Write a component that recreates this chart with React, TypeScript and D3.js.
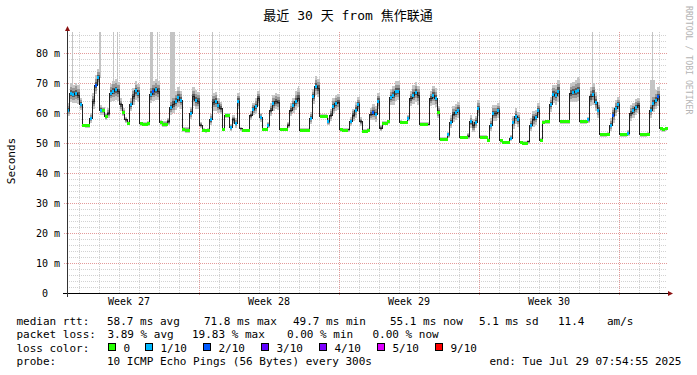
import React from "react";
import * as d3 from "d3";

// 30 day window, one sample every 3 hours (240 samples)
const startTime = Date.UTC(2025, 5, 30, 9, 36);
const stepHours = 3;
const spanDays = 30;

// median rtt in ms
const medianRtt = [
  61.0, 66.6, 66.2, 66.6, 66.0, 62.9, 55.8, 55.7,
  55.7, 58.2, 63.8, 69.3, 71.8, 61.0, 60.7, 58.8,
  59.9, 66.6, 67.3, 67.7, 67.1, 62.7, 60.2, 57.7,
  56.6, 62.7, 65.4, 67.4, 66.6, 56.4, 56.3, 56.3,
  56.4, 66.2, 67.1, 67.7, 67.3, 56.7, 56.3, 56.3,
  57.1, 61.8, 62.9, 64.0, 65.1, 64.3, 54.6, 54.3,
  54.3, 59.9, 65.4, 64.3, 64.0, 56.0, 54.3, 54.1,
  54.3, 57.7, 63.6, 63.8, 62.4, 61.6, 54.5, 59.1,
  59.1, 55.1, 57.7, 56.6, 64.0, 54.7, 54.2, 54.2,
  54.2, 59.1, 61.3, 62.1, 64.7, 58.5, 54.6, 54.6,
  56.0, 61.0, 63.2, 63.8, 63.6, 54.6, 54.6, 54.6,
  56.0, 61.0, 62.4, 64.0, 64.9, 54.3, 54.2, 54.2,
  54.2, 58.2, 65.4, 69.0, 68.2, 59.0, 59.0, 59.0,
  57.1, 59.3, 62.1, 63.2, 63.6, 54.4, 54.2, 54.2,
  54.4, 57.1, 59.3, 61.0, 62.7, 57.1, 54.0, 54.0,
  54.3, 59.6, 60.2, 59.6, 64.0, 55.0, 56.6, 56.6,
  57.1, 65.1, 65.8, 67.1, 67.3, 56.9, 56.8, 56.8,
  58.2, 64.7, 66.0, 66.9, 65.8, 56.2, 56.2, 56.2,
  56.2, 64.7, 65.8, 64.9, 60.2, 51.2, 51.2, 51.2,
  52.7, 57.0, 59.6, 60.2, 61.0, 51.8, 51.8, 51.8,
  52.3, 57.1, 55.7, 56.9, 61.6, 52.0, 52.0, 52.0,
  51.0, 56.0, 59.9, 59.9, 60.7, 50.7, 50.2, 50.2,
  50.2, 51.6, 56.8, 58.8, 57.7, 50.2, 50.0, 50.0,
  50.4, 56.0, 58.0, 58.4, 60.7, 51.0, 56.9, 57.1,
  57.1, 62.7, 66.2, 65.8, 67.3, 57.1, 57.1, 57.1,
  57.1, 66.6, 66.9, 67.1, 67.5, 57.1, 57.1, 57.1,
  57.7, 65.4, 66.3, 63.6, 61.0, 52.7, 52.7, 52.7,
  52.9, 56.0, 59.3, 61.6, 62.7, 52.7, 52.7, 52.7,
  53.2, 59.9, 60.7, 61.8, 62.4, 52.7, 52.7, 52.7,
  52.9, 61.0, 63.2, 64.3, 65.4, 54.7, 54.4, 54.7,
];

// loss colour level per sample: 0 = no loss, 1 = 1/10, 2 = 2/10, -1 = not marked
const lossLevel = [
  1, 1, 1, 1, -1, 1, 0, 0,
  0, 1, -1, 2, 1, 1, 0, 0,
  -1, 1, 1, 1, -1, -1, 0, -1,
  0, 1, -1, 1, 1, 0, 0, 0,
  0, 1, 2, 1, -1, 0, 0, 0,
  -1, 1, -1, 1, 1, 1, 0, 0,
  0, 1, -1, 1, -1, -1, 0, 0,
  0, 1, -1, 1, 1, -1, 0, 0,
  0, 1, -1, 1, 1, -1, 0, 0,
  0, -1, 1, 1, -1, 1, 0, 0,
  1, -1, 1, -1, -1, 0, 0, 0,
  -1, -1, 1, 1, -1, 0, 0, 0,
  0, 1, 1, 1, -1, 0, 0, 0,
  1, -1, 1, 1, -1, 0, 0, 0,
  -1, 1, -1, 1, 1, -1, 0, 0,
  0, -1, 2, 1, 1, -1, 0, 0,
  0, 1, 1, 1, 1, 0, 0, 0,
  1, -1, 1, 1, -1, 0, 0, 0,
  -1, -1, 1, 1, 0, 0, 0, 0,
  1, 1, -1, 1, 1, 0, 0, 0,
  -1, 1, -1, 1, 1, 0, 0, 0,
  0, 1, 1, -1, 1, 0, 0, 0,
  0, 1, 1, 1, 1, 0, 0, 0,
  -1, 1, -1, 1, 1, 0, 0, 0,
  0, 1, 1, 1, 1, 0, 0, 0,
  0, -1, 1, 1, 1, 0, 0, 0,
  1, -1, 1, 1, 1, 0, 0, 0,
  0, 1, 2, 1, 1, 0, 0, 0,
  1, -1, 1, 1, -1, 0, 0, 0,
  0, 1, 1, 1, 2, 0, 0, 0,
];

// half width of the smoke around the median, ms
const smokeSpread = [
  2.0, 3.0, 3.0, 3.2, 3.0, 2.0, 0.6, 0.6,
  0.6, 1.5, 2.5, 3.0, 2.5, 1.5, 1.2, 1.2,
  1.5, 2.8, 3.2, 3.2, 3.0, 2.0, 1.2, 1.0,
  0.6, 2.0, 2.8, 3.0, 2.8, 0.6, 0.6, 0.6,
  0.8, 3.0, 3.2, 3.2, 3.0, 0.8, 0.8, 0.8,
  1.2, 2.5, 3.0, 3.0, 3.2, 2.8, 0.8, 0.8,
  0.8, 2.0, 3.0, 3.0, 2.8, 1.0, 0.6, 0.6,
  0.6, 1.8, 2.8, 3.0, 2.5, 2.0, 0.6, 0.8,
  0.8, 1.2, 1.5, 1.5, 2.5, 0.6, 0.5, 0.5,
  0.5, 1.5, 2.0, 2.5, 2.5, 1.5, 0.5, 0.5,
  1.0, 2.0, 2.5, 2.5, 2.5, 0.5, 0.5, 0.5,
  1.0, 2.0, 2.5, 3.0, 3.0, 0.6, 0.6, 0.6,
  0.6, 2.0, 2.5, 3.0, 3.0, 0.6, 0.6, 0.6,
  1.0, 2.0, 2.5, 2.5, 2.5, 0.6, 0.6, 0.6,
  0.6, 1.5, 2.0, 2.5, 2.5, 1.5, 0.5, 0.5,
  0.5, 2.0, 2.5, 2.5, 2.5, 1.0, 0.6, 0.6,
  0.6, 2.5, 3.0, 3.2, 3.0, 0.6, 0.6, 0.6,
  1.0, 2.5, 3.0, 3.2, 3.0, 0.6, 0.6, 0.6,
  0.6, 2.5, 3.0, 3.0, 2.0, 0.6, 0.6, 0.6,
  1.0, 2.0, 2.5, 2.5, 2.5, 0.6, 0.6, 0.6,
  1.0, 2.0, 2.0, 2.0, 2.5, 0.6, 0.6, 0.6,
  0.6, 2.0, 2.5, 2.5, 2.5, 0.6, 0.5, 0.5,
  0.5, 1.0, 2.0, 2.5, 2.5, 0.5, 0.5, 0.5,
  0.6, 2.0, 2.5, 2.5, 2.5, 0.6, 0.6, 0.6,
  0.6, 2.5, 3.0, 3.2, 3.5, 0.6, 0.6, 0.6,
  0.6, 3.0, 3.2, 3.5, 3.5, 0.6, 0.6, 0.6,
  1.0, 3.0, 3.5, 3.0, 2.5, 0.6, 0.6, 0.6,
  0.6, 2.0, 2.5, 2.5, 2.5, 0.6, 0.6, 0.6,
  1.0, 2.5, 2.5, 2.5, 2.5, 0.6, 0.6, 0.6,
  0.6, 2.5, 3.0, 3.0, 3.0, 0.6, 0.6, 0.6,
];

// single slow pings that poke out of the smoke (hours from start, duration, ms)
const spikeHours = [6.4, 37.8, 54.6, 60.0, 99.6, 108.0, 123.6, 174.0, 276.8, 612.4, 630.4, 699.6, 702.4];
const spikeDurations = [1.2, 2.4, 1.2, 1.2, 3.6, 1.2, 6.0, 1.2, 1.2, 2.4, 1.2, 6.0, 1.2];
const spikeTops = [87, 87, 87, 87, 87, 87, 87, 87, 69, 72, 87, 71, 87];

const yTicks = [0, 10, 20, 30, 40, 50, 60, 70, 80];
const yTickLabels = ["0  ", "10 m", "20 m", "30 m", "40 m", "50 m", "60 m", "70 m", "80 m"];
const weekLabels = ["Week 27", "Week 28", "Week 29", "Week 30"];

const lossColors = ["#26ff00", "#00b8ff", "#0059ff", "#5e00ff", "#7e00ff", "#dd00ff", "#ff0000"];
const lossNames = ["0", "1/10", "2/10", "3/10", "4/10", "5/10", "9/10"];

const rttStats = ["58.7 ms avg", "71.8 ms max", "49.7 ms min", "55.1 ms now", "5.1 ms sd", "11.4", "am/s"];
const lossStats = ["3.89 % avg", "19.83 % max", "0.00 % min", "0.00 % now"];
const probeText = "10 ICMP Echo Pings (56 Bytes) every 300s";
const endText = "end: Tue Jul 29 07:54:55 2025";
const title = "最近 30 天 from 焦作联通";

const W = 697;
const H = 375;
const mono = "'DejaVu Sans Mono', 'Noto Sans CJK SC', monospace";

export default function App() {
  const hour = 3600 * 1000;
  const endTime = startTime + spanDays * 24 * hour;
  const x = d3.scaleUtc().domain([startTime, endTime]).range([67, 667]);
  const y = d3.scaleLinear().domain([0, 87]).range([293, 32]);

  const pts = medianRtt.map((v, i) => ({
    t: startTime + i * stepHours * hour,
    v,
    s: smokeSpread[i],
    l: lossLevel[i],
  }));
  const closed = [...pts, { ...pts[pts.length - 1], t: startTime + pts.length * stepHours * hour }];

  const band = (lo: number, hi: number) =>
    d3
      .area<any>()
      .curve(d3.curveStepAfter)
      .x((d) => x(d.t))
      .y0((d) => y(d.v - lo * d.s))
      .y1((d) => y(d.v + hi * d.s))(closed) as string;

  const medianPath = d3
    .line<any>()
    .curve(d3.curveStepAfter)
    .x((d) => x(d.t))
    .y((d) => y(d.v))(closed) as string;

  const days = d3.utcDay.range(new Date(startTime), new Date(endTime));
  const weeks = d3.utcMonday.range(new Date(startTime), new Date(endTime));
  const weekStarts = d3.utcMonday.range(d3.utcMonday.floor(new Date(startTime)), new Date(endTime));
  const minorY = d3.range(2, 87, 2).filter((v) => v % 10 !== 0);
  const px = (v: number) => Math.round(v) + 0.5;

  const rttX = [107, 204, 293, 390, 479, 558, 607];
  const lossX = [107.5, 192, 287, 372.5];
  const boxX = [108.5, 145.5, 203.5, 261.5, 319.5, 377.5, 435.5];

  return (
    <svg
      width={W}
      height={H}
      style={{ position: "absolute", left: 0, top: 0, background: "#fff" }}
      fontFamily={mono}
    >
      <rect width={W} height={H} fill="#fff" />

      {/* grid */}
      <g shapeRendering="crispEdges" strokeDasharray="1,1">
        {minorY.map((v) => (
          <line key={"my" + v} x1={67} x2={667} y1={px(y(v))} y2={px(y(v))} stroke="#d2d2d2" />
        ))}
        {days
          .filter((d) => d.getUTCDay() !== 1)
          .map((d) => (
            <line key={"dx" + +d} x1={px(x(d))} x2={px(x(d))} y1={32} y2={293} stroke="#d2d2d2" />
          ))}
        {yTicks
          .filter((v) => v > 0)
          .map((v) => (
            <line key={"My" + v} x1={64} x2={667} y1={px(y(v))} y2={px(y(v))} stroke="#e39a9a" />
          ))}
        {weeks.map((d) => (
          <line key={"wx" + +d} x1={px(x(d))} x2={px(x(d))} y1={32} y2={296} stroke="#e39a9a" />
        ))}
      </g>

      {/* spikes */}
      <g shapeRendering="crispEdges">
        {spikeHours.map((h, i) => {
          const t = startTime + h * hour;
          const base = medianRtt[Math.min(medianRtt.length - 1, Math.floor(h / stepHours))];
          return (
            <rect
              key={"sp" + i}
              x={x(t)}
              width={Math.max(1, x(t + spikeDurations[i] * hour) - x(t))}
              y={y(spikeTops[i])}
              height={y(base) - y(spikeTops[i])}
              fill="#c4c4c4"
            />
          );
        })}
      </g>

      {/* smoke */}
      <g shapeRendering="crispEdges">
        <path d={band(1.0, 1.1)} fill="#c6c6c6" />
        <path d={band(0.6, 0.7)} fill="#999999" />
        <path d={band(0.3, 0.35)} fill="#5c5c5c" />
      </g>

      {/* median */}
      <path d={medianPath} fill="none" stroke="#202020" strokeWidth={1} shapeRendering="crispEdges" />

      {/* loss markers */}
      <g shapeRendering="crispEdges">
        {pts
          .filter((d) => d.l >= 0)
          .map((d, i) => {
            const x0 = x(d.t);
            const w = d.l === 0 ? x(d.t + stepHours * hour) - x0 + 0.5 : 2;
            return (
              <rect key={"lm" + i} x={x0} width={w} y={y(d.v) - 1.5} height={3} fill={lossColors[d.l]} />
            );
          })}
      </g>

      {/* axes */}
      <g shapeRendering="crispEdges">
        <line x1={63} x2={668} y1={293.5} y2={293.5} stroke="#000" />
        <line x1={67.5} x2={67.5} y1={297} y2={30} stroke="#333" />
      </g>
      <path d="M65,31 L70,31 L67.5,26 Z" fill="#8b1010" />
      <path d="M668,291 L668,296 L673,293.5 Z" fill="#8b1010" />

      {/* y labels */}
      {yTicks.map((v, i) => (
        <text
          key={"yl" + v}
          x={60}
          y={y(v) + 3.5}
          fontSize={10}
          textAnchor="end"
          style={{ whiteSpace: "pre" }}
          fill="#000"
        >
          {yTickLabels[i]}
        </text>
      ))}

      {/* week labels */}
      {weekStarts.map((d, i) => {
        const c = +d + 3.5 * 24 * hour;
        if (c > endTime || i >= weekLabels.length) return null;
        return (
          <text key={"wl" + i} x={x(c)} y={305} fontSize={10} textAnchor="middle" fill="#000">
            {weekLabels[i]}
          </text>
        );
      })}

      {/* title and side labels */}
      <text x={348} y={19.5} fontSize={13} textAnchor="middle" fill="#000" style={{ whiteSpace: "pre" }}>
        {title}
      </text>
      <text transform="translate(15,161) rotate(-90)" fontSize={11} textAnchor="middle" fill="#000">
        Seconds
      </text>
      <text transform="translate(685.5,6) rotate(90)" fontSize={8.2} fill="#b4b4b4">
        RRDTOOL / TOBI OETIKER
      </text>

      {/* legend */}
      <g fontSize={11} fill="#000" style={{ whiteSpace: "pre" }}>
        <text x={16.5} y={324.5}>median rtt:</text>
        {rttStats.map((s, i) => (
          <text key={"rs" + i} x={rttX[i]} y={324.5}>
            {s}
          </text>
        ))}
        <text x={16.5} y={338}>packet loss:</text>
        {lossStats.map((s, i) => (
          <text key={"ls" + i} x={lossX[i]} y={338}>
            {s}
          </text>
        ))}
        <text x={16.5} y={351.5}>loss color:</text>
        {lossNames.map((n, i) => (
          <g key={"lc" + i}>
            <rect
              x={boxX[i]}
              y={343.5}
              width={7}
              height={7}
              fill={lossColors[i]}
              stroke="#000"
              shapeRendering="crispEdges"
            />
            <text x={boxX[i] + 15} y={351.5}>
              {n}
            </text>
          </g>
        ))}
        <text x={16.5} y={365}>probe:</text>
        <text x={107} y={365}>
          {probeText}
        </text>
        <text x={681.5} y={365} textAnchor="end">
          {endText}
        </text>
      </g>
    </svg>
  );
}
